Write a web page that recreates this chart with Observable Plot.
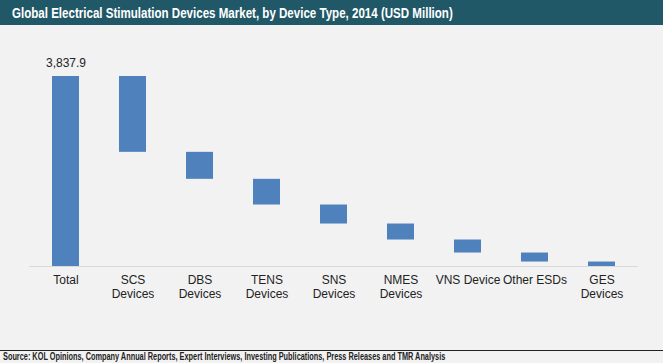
<!DOCTYPE html>
<html>
<head>
<meta charset="utf-8">
<script src="https://cdn.jsdelivr.net/npm/d3@7"></script>
<script src="https://cdn.jsdelivr.net/npm/@observablehq/plot@0.6"></script>
<style>
  html, body { margin: 0; padding: 0; background: #f2f2f2; }
  #wrap { width: 663px; height: 363px; overflow: hidden; background: #f2f2f2; }
  #title { height: 25px; line-height: 25px; background: #215868; color: #fff;
    font-family: "Liberation Sans", Arial, sans-serif;
    font-weight: bold; font-size: 15px; padding-left: 12px; white-space: nowrap; }
  #title span { display: inline-block; transform: scaleX(0.77); transform-origin: left center; }
  #chart svg { display: block; }
  #source { border-top: 1px solid #222; font-family: "Liberation Sans", Arial, sans-serif;
    font-weight: bold; font-size: 10px; line-height: 11px; padding-left: 3px; color: #222; white-space: nowrap; }
  #source span { display: inline-block; transform: scaleX(0.734); transform-origin: left center; }
</style>
</head>
<body>
<div id="wrap">
  <div id="title"><span>Global Electrical Stimulation Devices Market, by Device Type, 2014 (USD Million)</span></div>
  <div id="chart"></div>
  <div id="source"><span>Source: KOL Opinions, Company Annual Reports, Expert Interviews, Investing Publications, Press Releases and TMR Analysis</span></div>
</div>
<script>
const categories = ["Total", "SCS Devices", "DBS Devices", "TENS Devices", "SNS Devices", "NMES Devices", "VNS Device", "Other ESDs", "GES Devices"];
const tickLabels = ["Total", "SCS\nDevices", "DBS\nDevices", "TENS\nDevices", "SNS\nDevices", "NMES\nDevices", "VNS Device", "Other ESDs", "GES\nDevices"];
const values = [3837.9, 1531.9, 545, 519, 384, 323, 263, 182, 90];

// waterfall table built from the values
const rows = [];
let running = values[0];
categories.forEach((c, i) => {
  if (i === 0) rows.push({cat: c, value: values[i], y1: 0, y2: values[i]});
  else { rows.push({cat: c, value: values[i], y1: running - values[i], y2: running}); running -= values[i]; }
});
const labelOf = new Map(categories.map((c, i) => [c, tickLabels[i]]));

const chart = Plot.plot({
  width: 663,
  height: 325,
  marginTop: 51,
  marginBottom: 84,
  marginLeft: 29,
  marginRight: 25,
  style: {background: "#f2f2f2", fontFamily: "'Liberation Sans', Arial, sans-serif", fontSize: "12px", color: "#222"},
  x: {domain: categories, paddingInner: 0.6, paddingOuter: 0.3, axis: null, label: null},
  y: {domain: [0, values[0]], axis: null},
  marks: [
    Plot.ruleY([0], {stroke: "#d9d9d9", strokeWidth: 1}),
    Plot.barY(rows, {x: "cat", y1: "y1", y2: "y2", fill: "#4f81bd"}),
    Plot.axisX({tickSize: 0, tickPadding: 8, fontSize: 12, lineHeight: 1.15, label: null, tickFormat: d => labelOf.get(d), fill: "#222"}),
    Plot.text([rows[0]], {x: "cat", y: "y2", text: d => d3.format(",.1f")(d.value), dy: -13, fontSize: 12, fill: "#222"})
  ]
});
document.getElementById("chart").append(chart);
</script>
</body>
</html>
